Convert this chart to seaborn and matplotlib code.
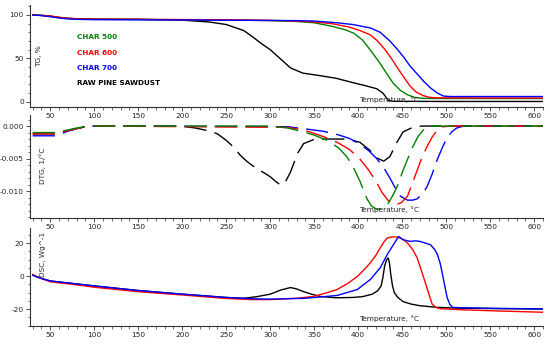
import matplotlib
matplotlib.use("Agg")
import matplotlib.pyplot as plt
import seaborn as sns
from matplotlib.ticker import MultipleLocator, FixedLocator, FixedFormatter

# ---- TG, % ----
tg500_t = [30, 40, 50, 60, 70, 80, 100, 150, 200, 250, 300, 330, 350, 370, 385, 395, 405, 415, 425, 432, 440, 448, 456, 464, 472, 480, 500, 550, 612]
tg500_v = [100, 99.5, 98.5, 97, 96, 95.5, 95, 94.8, 94.5, 94.2, 93.5, 92.5, 91, 87, 83, 79, 71, 58, 44, 33, 21, 13, 8, 5, 4, 3.8, 3.7, 3.7, 3.7]
tg600_t = [30, 40, 50, 60, 70, 80, 100, 150, 200, 250, 300, 330, 350, 370, 390, 402, 414, 422, 429, 437, 444, 452, 459, 466, 474, 481, 490, 550, 612]
tg600_v = [100, 99.6, 98.8, 97.3, 96.2, 95.6, 95.2, 95, 94.7, 94.4, 93.8, 93, 92, 90, 86, 82, 77, 70, 62, 51, 40, 28, 18, 11, 7, 5, 4.5, 4.3, 4.2]
tg700_t = [30, 40, 50, 60, 70, 80, 100, 150, 200, 250, 300, 330, 350, 376, 394, 414, 425, 436, 444, 452, 459, 467, 474, 482, 490, 497, 505, 550, 612]
tg700_v = [100, 99.3, 98, 96.5, 95.5, 95, 94.6, 94.4, 94.2, 94, 93.7, 93.5, 93, 91, 89, 85, 80, 70, 61, 51, 41, 32, 24, 16, 10, 6.5, 6, 6, 6]
tgraw_t = [30, 40, 50, 60, 70, 80, 100, 150, 200, 230, 250, 270, 281, 290, 300, 311, 323, 337, 357, 375, 394, 410, 421, 428, 431, 434, 440, 500, 612]
tgraw_v = [100, 99.5, 98.7, 97.2, 96.2, 95.6, 95.2, 95, 94, 92, 89, 82, 74, 67, 60, 50, 39, 33, 30, 27, 22, 18, 15, 10, 6, 1.5, 0.5, 0.3, 0.3]

# ---- DTG, 1/°C ----
dtg500_t = [30, 55, 60, 70, 80, 90, 100, 300, 320, 338, 350, 365, 378, 387, 395, 402, 410, 415, 421, 427, 433, 438, 444, 451, 457, 462, 468, 474, 482, 612]
dtg500_v = [-0.0010, -0.0010, -0.0009, -0.0006, -0.0003, -0.0001, 0, 0, -0.0003, -0.0009, -0.0014, -0.0022, -0.0034, -0.0047, -0.0065, -0.0085, -0.0112, -0.0123, -0.0128, -0.0127, -0.0121, -0.0110, -0.0094, -0.0068, -0.0048, -0.0032, -0.0016, -0.0006, 0, 0]
dtg600_t = [30, 55, 60, 70, 80, 90, 100, 320, 338, 360, 376, 390, 402, 412, 421, 427, 433, 438, 443, 449, 456, 461, 467, 472, 478, 484, 490, 497, 505, 612]
dtg600_v = [-0.0012, -0.0012, -0.0011, -0.0007, -0.0004, -0.0001, 0, -0.0002, -0.0006, -0.0016, -0.0025, -0.0036, -0.0051, -0.0068, -0.0087, -0.0102, -0.0113, -0.0119, -0.0121, -0.0118, -0.0108, -0.0090, -0.0068, -0.0050, -0.0032, -0.0017, -0.0006, -0.0001, 0, 0]
dtg700_t = [30, 55, 60, 70, 80, 90, 100, 320, 338, 360, 376, 390, 402, 412, 421, 429, 436, 442, 448, 456, 462, 467, 473, 478, 484, 490, 496, 501, 507, 512, 520, 612]
dtg700_v = [-0.0015, -0.0015, -0.0013, -0.0008, -0.0004, -0.0001, 0, -0.0001, -0.0004, -0.0008, -0.0013, -0.0019, -0.0028, -0.0038, -0.0050, -0.0064, -0.0080, -0.0095, -0.0108, -0.0114, -0.0114, -0.0112, -0.0104, -0.0094, -0.0074, -0.0051, -0.0032, -0.0018, -0.0008, -0.0003, 0, 0]
dtgraw_t = [30, 55, 60, 70, 80, 90, 100, 198, 215, 232, 240, 250, 258, 266, 274, 285, 293, 300, 306, 311, 316, 323, 331, 338, 349, 360, 387, 402, 413, 421, 429, 436, 444, 451, 462, 472, 612]
dtgraw_v = [-0.0012, -0.0012, -0.0011, -0.0007, -0.0004, -0.0001, 0, 0, -0.0003, -0.0008, -0.0012, -0.0022, -0.0032, -0.0045, -0.0055, -0.0066, -0.0072, -0.0078, -0.0085, -0.0090, -0.0089, -0.0071, -0.0042, -0.0027, -0.0021, -0.0020, -0.0020, -0.0025, -0.0037, -0.0049, -0.0054, -0.0047, -0.0025, -0.0009, -0.0002, 0, 0]

# ---- DSC, Wg^-1 ----
dsc600_t = [30, 35, 40, 50, 75, 100, 150, 200, 250, 280, 300, 330, 349, 362, 376, 388, 399, 407, 414, 420, 425, 429, 433, 438, 444, 450, 456, 462, 467, 472, 478, 481, 484, 488, 493, 520, 560, 612]
dsc600_v = [1, -0.5, -1.5, -3.5, -5, -6.8, -9.5, -11.5, -13.6, -14.3, -14.3, -13.5, -12.4, -10.5, -8.2, -4.5, -0.3, 4, 8.2, 12.5, 17, 20.5, 23, 23.7, 23.6, 22.5, 20, 16, 11, 3, -7, -12, -17, -19, -19.8, -20.5, -21.2, -22]
dsc700_t = [30, 35, 40, 50, 75, 100, 150, 200, 250, 280, 300, 340, 376, 399, 414, 425, 433, 440, 446, 451, 459, 465, 470, 476, 482, 487, 490, 493, 495, 498, 501, 504, 507, 520, 612]
dsc700_v = [0.5, -0.5, -1.5, -3, -4.5, -6, -8.8, -11, -13, -13.8, -14, -13.5, -11.8, -8.2, -2, 5, 13, 19, 24, 22, 21, 21.3, 21, 20, 19, 16, 13, 8, 3, -5, -13, -17, -19, -19.3, -20]
dscraw_t = [30, 35, 40, 50, 75, 100, 150, 200, 250, 270, 285, 300, 312, 323, 330, 338, 347, 357, 375, 394, 405, 416, 422, 426, 428, 430, 432, 434, 435.5, 437, 439, 441, 445, 451, 460, 470, 490, 508, 560, 612]
dscraw_v = [0.5, -0.5, -1.5, -3, -4.5, -6, -8.8, -11, -13, -13.5, -12.5, -11, -8.5, -7, -7.8, -9.5, -11, -12.4, -13.2, -13, -12.5, -11, -9, -6, -1, 6, 9.5, 11, 8, 1, -6, -10, -13, -15.5, -17, -18, -19, -19.4, -19.8, -20]

GREEN, RED, BLUE, BLACK = "#008000", "#ff0000", "#0000ff", "#000000"

sns.set_style("ticks")
plt.rcParams["font.family"] = ["DejaVu Sans"]
plt.rcParams["axes.unicode_minus"] = False
plt.rcParams["lines.scale_dashes"] = False

W, H = 550, 345
fig = plt.figure(figsize=(W / 100, H / 100), dpi=100)


def px_axes(top, bottom, left=30, right=543):
    return fig.add_axes([left / W, 1 - bottom / H, (right - left) / W, (bottom - top) / H])


ax1 = px_axes(5, 106.5)
ax2 = px_axes(115, 218)
ax3 = px_axes(228, 326)

lw = 1.0
sns.lineplot(x=tgraw_t, y=tgraw_v, ax=ax1, color=BLACK, lw=lw)
sns.lineplot(x=tg500_t, y=tg500_v, ax=ax1, color=GREEN, lw=lw)
sns.lineplot(x=tg600_t, y=tg600_v, ax=ax1, color=RED, lw=lw)
sns.lineplot(x=tg700_t, y=tg700_v, ax=ax1, color=BLUE, lw=lw)

dash = (0, (16, 6))
sns.lineplot(x=dtgraw_t, y=dtgraw_v, ax=ax2, color=BLACK, lw=lw, linestyle=dash)
sns.lineplot(x=dtg700_t, y=dtg700_v, ax=ax2, color=BLUE, lw=lw, linestyle=dash)
sns.lineplot(x=dtg600_t, y=dtg600_v, ax=ax2, color=RED, lw=lw, linestyle=dash)
sns.lineplot(x=dtg500_t, y=dtg500_v, ax=ax2, color=GREEN, lw=lw, linestyle=dash)

sns.lineplot(x=dscraw_t, y=dscraw_v, ax=ax3, color=BLACK, lw=lw)
sns.lineplot(x=dsc600_t, y=dsc600_v, ax=ax3, color=RED, lw=lw)
sns.lineplot(x=dsc700_t, y=dsc700_v, ax=ax3, color=BLUE, lw=lw)

ax1.set_ylim(-5.5, 111.5)
ax2.set_ylim(-0.01415, 0.0017)
ax3.set_ylim(-30.3, 29.1)

yticks = [
    (ax1, [0, 50, 100], ["0", "50", "100"], 10),
    (ax2, [-0.010, -0.005, 0.0], ["-0.010", "-0.005", "0.000"], 0.001),
    (ax3, [-20, 0, 20], ["-20", "0", "20"], 5),
]
fs = 5.3
for ax, pos, labs, minor in yticks:
    ax.set_xlim(27, 610)
    ax.xaxis.set_major_locator(MultipleLocator(50))
    ax.xaxis.set_minor_locator(MultipleLocator(10))
    ax.yaxis.set_major_locator(FixedLocator(pos))
    ax.yaxis.set_major_formatter(FixedFormatter(labs))
    ax.yaxis.set_minor_locator(MultipleLocator(minor))
    ax.set_xlabel("")
    ax.set_ylabel("")
    ax.set_facecolor("none")
    for s in ["top", "right"]:
        ax.spines[s].set_visible(False)
    for s in ["left", "bottom"]:
        ax.spines[s].set_color("#333333")
        ax.spines[s].set_linewidth(0.8)
    ax.tick_params(which="major", length=3, width=0.6, pad=1.5, labelsize=fs, color="#333333")
    ax.tick_params(which="minor", length=1.8, width=0.5, color="#333333")
    xl = [t for t in range(50, 601, 50)]
    ax.set_xticks(xl)
    ax.set_xticklabels([str(t) for t in xl])

# axis titles placed inside the panels
fig.text(39 / W, 1 - 56 / H, "TG, %", rotation=90, fontsize=fs, ha="center", va="center")
fig.text(42.5 / W, 1 - 166 / H, "DTG, 1/°C", rotation=90, fontsize=fs, ha="center", va="center")
fig.text(42.5 / W, 1 - 254 / H, "DSC, Wg^-1", rotation=90, fontsize=fs, ha="center", va="center")
for yy in [100, 210, 319]:
    fig.text(359 / W, 1 - yy / H, "Temperature, °C", fontsize=fs, ha="left", va="center")

# legend as coloured labels
legend_items = [("CHAR 500", GREEN, 36.7), ("CHAR 600", RED, 52.7), ("CHAR 700", BLUE, 68.3), ("RAW PINE SAWDUST", BLACK, 83.3)]
for txt, col, yy in legend_items:
    fig.text(77 / W, 1 - yy / H, txt, color=col, fontsize=5.2, fontweight="bold", ha="left", va="center")

fig.savefig("out.png", dpi=100)
